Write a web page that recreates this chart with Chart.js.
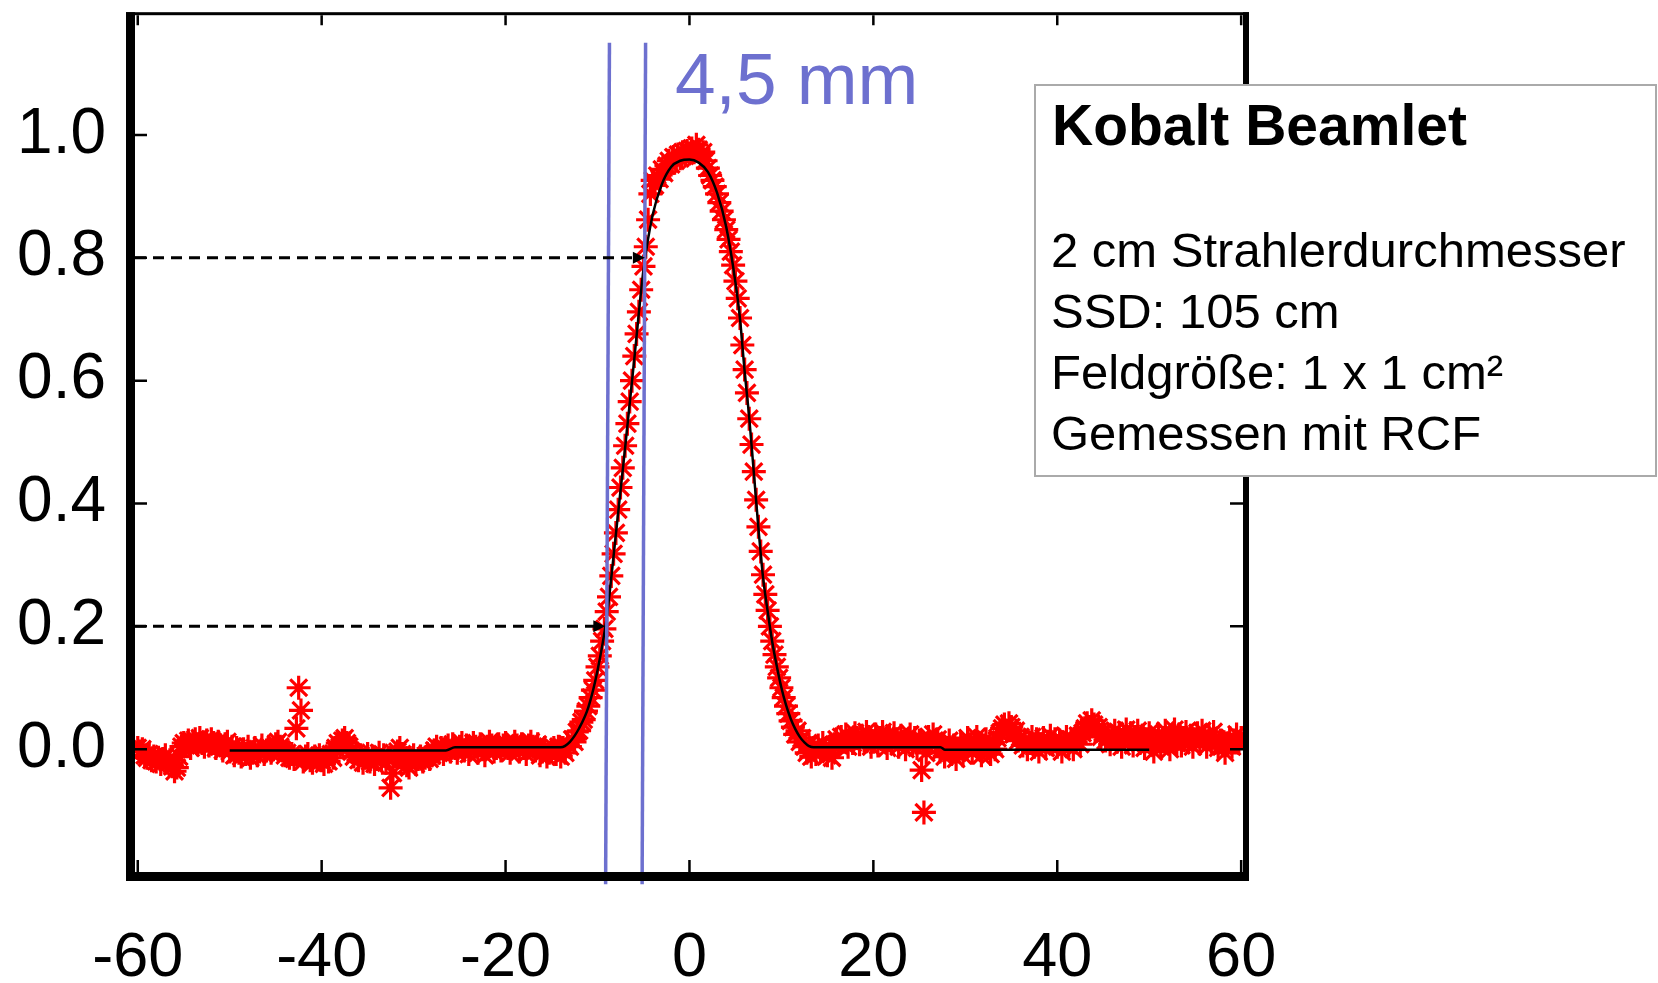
<!DOCTYPE html>
<html>
<head>
<meta charset="utf-8">
<script src="https://cdn.jsdelivr.net/npm/chart.js@4.4.1/dist/chart.umd.min.js"></script>
<style>
  html, body { margin: 0; padding: 0; background: #fff; }
  canvas { display: block; }
</style>
</head>
<body>
<canvas id="beamlet_chart" width="1658" height="983"></canvas>
<script>
// Kobalt Beamlet - Querprofil (RCF Messung)

// Messpunkte: Start bei -60, Schrittweite 0.25
const PROFILE_X_START = -60;
const PROFILE_X_STEP = 0.25;
const PROFILE_Y = [
  // -60 .. -55.25
  0.002, -0.004, 0.000, -0.010, -0.014, -0.008, -0.018, -0.012, -0.020, -0.014, -0.024, -0.016, -0.010, -0.022, -0.018, -0.028, -0.036, -0.030, -0.012, 0.004,
  // -55 .. -50.25
  0.010, 0.006, 0.014, 0.002, 0.012, 0.016, 0.008, 0.018, 0.010, 0.004, 0.014, 0.006, 0.016, 0.010, 0.002, 0.012, 0.006, -0.002, 0.008, 0.012,
  // -50 .. -45.25
  -0.004, 0.004, -0.010, 0.002, -0.006, -0.012, 0.000, -0.008, 0.004, -0.014, -0.006, 0.002, -0.010, -0.004, 0.006, -0.008, -0.002, 0.004, -0.006, 0.000,
  // -45 .. -40.25
  0.008, 0.012, 0.004, -0.002, -0.010, -0.006, -0.014, -0.008, -0.016, 0.034, 0.100, 0.063, -0.020, -0.012, -0.008, -0.018, -0.022, -0.012, -0.016, -0.010,
  // -40 .. -35.25
  -0.018, -0.024, -0.012, -0.020, -0.008, -0.014, 0.002, 0.010, 0.006, 0.014, 0.018, 0.010, 0.004, -0.004, -0.012, -0.006, -0.018, -0.010, -0.022, -0.014,
  // -35 .. -30.25
  -0.008, -0.020, -0.012, -0.024, -0.016, -0.006, -0.018, -0.010, -0.022, -0.014, -0.063, -0.039, -0.012, -0.004, 0.002, -0.008, -0.016, -0.026, -0.030, -0.018,
  // -30 .. -25.25
  -0.010, -0.024, -0.016, -0.012, -0.020, -0.014, -0.008, -0.016, -0.010, -0.002, 0.004, -0.006, 0.002, -0.008, 0.000, 0.006, -0.004, 0.008, 0.002, -0.006,
  // -25 .. -20.25
  0.004, 0.010, -0.002, 0.006, -0.008, 0.002, 0.010, 0.004, -0.006, 0.008, 0.000, -0.010, 0.004, 0.012, 0.006, -0.004, 0.002, 0.008, -0.002, 0.006,
  // -20 .. -15.25
  0.010, 0.002, -0.006, 0.004, 0.012, 0.006, -0.004, 0.008, 0.002, -0.008, 0.006, 0.012, 0.004, -0.002, 0.008, -0.010, -0.004, 0.002, -0.012, -0.006,
  // -15 .. -10.25
  -0.004, 0.002, -0.008, 0.004, -0.012, 0.002, -0.006, 0.008, 0.004, 0.016, 0.012, 0.028, 0.030, 0.044, 0.048, 0.062, 0.070, 0.084, 0.096, 0.112,
  // -10 .. -5.25
  0.134, 0.152, 0.176, 0.196, 0.224, 0.248, 0.282, 0.318, 0.352, 0.390, 0.426, 0.458, 0.494, 0.530, 0.566, 0.600, 0.640, 0.676, 0.712, 0.748,
  // -5 .. -0.25
  0.786, 0.818, 0.862, 0.904, 0.926, 0.918, 0.934, 0.928, 0.944, 0.938, 0.950, 0.958, 0.952, 0.964, 0.958, 0.968, 0.962, 0.972, 0.966, 0.974,
  // 0 .. 4.75
  0.970, 0.978, 0.972, 0.984, 0.976, 0.968, 0.972, 0.958, 0.946, 0.934, 0.926, 0.916, 0.904, 0.890, 0.876, 0.862, 0.846, 0.830, 0.810, 0.788,
  // 5 .. 9.75
  0.762, 0.734, 0.702, 0.658, 0.618, 0.580, 0.538, 0.496, 0.452, 0.406, 0.362, 0.322, 0.284, 0.252, 0.226, 0.200, 0.176, 0.154, 0.134, 0.116,
  // 10 .. 14.75
  0.100, 0.084, 0.070, 0.058, 0.046, 0.036, 0.024, 0.030, 0.012, 0.018, 0.004, -0.006, 0.008, -0.012, 0.002, -0.008, 0.006, -0.004, 0.010, 0.000,
  // 15 .. 19.75
  -0.010, 0.004, -0.014, 0.008, 0.016, 0.006, 0.020, 0.012, 0.024, 0.004, 0.016, 0.010, 0.026, 0.018, 0.008, 0.022, 0.014, 0.028, 0.020, 0.004,
  // 20 .. 24.75
  0.012, 0.024, 0.006, 0.018, 0.028, 0.014, 0.002, 0.020, 0.010, 0.026, 0.016, 0.004, 0.022, 0.012, 0.000, 0.014, 0.024, 0.008, 0.018, 0.002,
  // 25 .. 29.75
  0.014, -0.034, -0.103, -0.006, 0.020, 0.010, 0.024, 0.006, 0.016, -0.004, 0.008, -0.012, 0.002, 0.014, -0.008, 0.006, -0.016, -0.002, 0.010, -0.010,
  // 30 .. 34.75
  0.004, 0.018, 0.008, -0.006, 0.012, 0.020, 0.004, -0.010, 0.006, 0.016, 0.002, -0.008, 0.010, 0.000, 0.018, 0.026, 0.034, 0.040, 0.030, 0.042,
  // 35 .. 39.75
  0.036, 0.024, 0.030, 0.014, 0.020, 0.006, 0.014, 0.000, 0.010, 0.020, 0.004, 0.016, -0.004, 0.008, 0.018, 0.002, 0.012, 0.022, 0.008, 0.016,
  // 40 .. 44.75
  0.004, 0.014, -0.004, 0.010, 0.020, 0.006, 0.016, 0.000, 0.012, 0.022, 0.008, 0.026, 0.034, 0.042, 0.036, 0.047, 0.040, 0.030, 0.036, 0.020,
  // 45 .. 49.75
  0.028, 0.014, 0.024, 0.008, 0.020, 0.030, 0.012, 0.026, 0.004, 0.018, 0.032, 0.016, 0.026, 0.006, 0.020, 0.030, 0.010, 0.022, 0.002, 0.016,
  // 50 .. 54.75
  0.026, 0.008, -0.004, 0.012, 0.024, 0.004, 0.018, 0.030, 0.014, 0.000, 0.020, 0.032, 0.010, 0.024, 0.006, 0.018, 0.028, 0.012, 0.022, 0.004,
  // 55 .. 60
  0.016, 0.026, 0.010, 0.030, 0.018, 0.004, 0.022, 0.012, 0.028, 0.016, 0.002, 0.014, 0.006, -0.006, 0.008, 0.018, 0.004, 0.014, 0.024, 0.010,
  0.018
];

// Fit-Kurve (schwarz)
const FIT_X = [-50, -26.5, -25.5, -14, -13, -12, -11, -10, -9, -8, -7, -6, -5, -4, -3, -2, -1,
  0, 1, 2, 3, 4, 5, 5.5, 6, 6.5, 7, 7.5, 8, 8.5, 9, 9.5, 10, 10.5, 11, 11.5, 12, 12.5, 13, 13.5,
  27.3, 27.8, 50];
const FIT_Y = [-0.002, -0.002, 0.003, 0.003, 0.012, 0.034, 0.068, 0.128, 0.215, 0.35, 0.49, 0.635, 0.78, 0.87, 0.92, 0.948, 0.958,
  0.96, 0.955, 0.94, 0.906, 0.85, 0.76, 0.70, 0.615, 0.54, 0.45, 0.36, 0.28, 0.225, 0.175, 0.135, 0.10, 0.072, 0.05, 0.033, 0.02, 0.011, 0.005, 0.003,
  0.003, -0.001, -0.001];

// Penumbra-Markierung (blaue Linien, 20% / 80%)
const MARK_Y = [1.15, -0.22];
const MARK_LEFT_X = [-8.7, -9.12];
const MARK_RIGHT_X = [-4.77, -5.15];
const ARROW_LEVELS = [0.8, 0.2];
const ARROW_TIPS = [-4.85, -9.15];
const PENUMBRA_LABEL = '4,5 mm';

// Achsen
const X_TICKS = [-60, -40, -20, 0, 20, 40, 60];
const Y_TICKS = [0.0, 0.2, 0.4, 0.6, 0.8, 1.0];

// Info-Box
const INFO_TITLE = 'Kobalt Beamlet';
const INFO_LINES = ['2 cm Strahlerdurchmesser', 'SSD: 105 cm', 'Feldgröße: 1 x 1 cm²', 'Gemessen mit RCF'];

const FONT = "'Liberation Sans', Arial, sans-serif";
const BLUE = '#6d70cf';

document.addEventListener('DOMContentLoaded', function () {
  beamlet_chart();
});

function beamlet_chart() {
  const profilePoints = PROFILE_Y.map(function (v, i) {
    return { x: PROFILE_X_START + i * PROFILE_X_STEP, y: v };
  });
  const fitPoints = FIT_X.map(function (x, i) { return { x: x, y: FIT_Y[i] }; });
  const leftMark = MARK_LEFT_X.map(function (x, i) { return { x: x, y: MARK_Y[i] }; });
  const rightMark = MARK_RIGHT_X.map(function (x, i) { return { x: x, y: MARK_Y[i] }; });

  // Rahmen, Ticks nach innen, Pfeile, Text
  const overlay = {
    id: 'overlay',
    afterDatasetsDraw: function (chart) {
      const ctx = chart.ctx;
      const ca = chart.chartArea;
      const xs = chart.scales.x;
      const ys = chart.scales.y;
      ctx.save();

      // gestrichelte Pfeile
      ctx.strokeStyle = '#000';
      ctx.fillStyle = '#000';
      ctx.lineWidth = 3;
      ARROW_LEVELS.forEach(function (lv, i) {
        const y = ys.getPixelForValue(lv);
        const tip = xs.getPixelForValue(ARROW_TIPS[i]);
        ctx.setLineDash([11, 7]);
        ctx.beginPath();
        ctx.moveTo(ca.left, y);
        ctx.lineTo(tip - 10, y);
        ctx.stroke();
        ctx.setLineDash([]);
        ctx.beginPath();
        ctx.moveTo(tip, y);
        ctx.lineTo(tip - 12, y - 6);
        ctx.lineTo(tip - 12, y + 6);
        ctx.closePath();
        ctx.fill();
      });

      // Ticks
      ctx.lineWidth = 2.5;
      ctx.beginPath();
      X_TICKS.forEach(function (v) {
        const px = xs.getPixelForValue(v);
        ctx.moveTo(px, ca.bottom);
        ctx.lineTo(px, ca.bottom - 12);
        ctx.moveTo(px, ca.top);
        ctx.lineTo(px, ca.top + 10);
      });
      Y_TICKS.forEach(function (v) {
        const py = ys.getPixelForValue(v);
        ctx.moveTo(ca.left, py);
        ctx.lineTo(ca.left + 12, py);
        ctx.moveTo(ca.right, py);
        ctx.lineTo(ca.right - 13, py);
      });
      ctx.stroke();

      // Rahmen
      ctx.fillRect(ca.left - 9, ca.top - 3, 9, ca.bottom - ca.top + 12);
      ctx.fillRect(ca.left - 9, ca.bottom, ca.right - ca.left + 15, 9);
      ctx.fillRect(ca.left - 9, ca.top - 3, ca.right - ca.left + 15, 3);
      ctx.fillRect(ca.right, ca.top - 3, 6, ca.bottom - ca.top + 12);

      // 4,5 mm
      ctx.fillStyle = BLUE;
      ctx.font = '73px ' + FONT;
      ctx.textAlign = 'left';
      ctx.textBaseline = 'alphabetic';
      ctx.fillText(PENUMBRA_LABEL, 675, 104);

      // Info-Box
      ctx.fillStyle = '#fff';
      ctx.fillRect(1035, 85, 621, 391);
      ctx.strokeStyle = '#aaaaaa';
      ctx.lineWidth = 2;
      ctx.strokeRect(1035, 85, 621, 391);
      ctx.fillStyle = '#000';
      ctx.font = 'bold 57px ' + FONT;
      ctx.fillText(INFO_TITLE, 1052, 145);
      ctx.font = '49px ' + FONT;
      INFO_LINES.forEach(function (t, i) {
        ctx.fillText(t, 1051, 267 + i * 61);
      });

      ctx.restore();
    }
  };

  const data = {
    datasets: [
      {
        label: 'links',
        data: leftMark,
        showLine: true,
        borderColor: BLUE,
        borderWidth: 3.5,
        pointRadius: 0,
        clip: false,
        order: 0
      },
      {
        label: 'rechts',
        data: rightMark,
        showLine: true,
        borderColor: BLUE,
        borderWidth: 3.5,
        pointRadius: 0,
        clip: false,
        order: 0
      },
      {
        label: 'Fit',
        data: fitPoints,
        showLine: true,
        borderColor: '#000',
        borderWidth: 2.5,
        pointRadius: 0,
        cubicInterpolationMode: 'monotone',
        order: 1
      },
      {
        label: 'Messung',
        data: profilePoints,
        showLine: false,
        pointStyle: 'star',
        pointRadius: 12,
        pointBorderWidth: 3.2,
        pointBorderColor: '#ff0000',
        pointBackgroundColor: '#ff0000',
        order: 2
      }
    ]
  };

  const options = {
    responsive: false,
    animation: false,
    devicePixelRatio: 1,
    layout: { padding: { left: 0, right: 415, top: 10, bottom: 0 } },
    plugins: {
      legend: { display: false },
      tooltip: { enabled: false }
    },
    scales: {
      x: {
        type: 'linear',
        min: -60.3,
        max: 60.2,
        grid: { display: false, drawTicks: false },
        border: { display: false },
        afterBuildTicks: function (scale) {
          scale.ticks = X_TICKS.map(function (v) { return { value: v }; });
        },
        afterFit: function (scale) {
          scale.height = 111;
          scale.paddingLeft = 0;
          scale.paddingRight = 0;
        },
        ticks: {
          padding: 49,
          maxRotation: 0,
          autoSkip: false,
          color: '#000',
          font: { family: FONT, size: 63 },
          callback: function (v) { return String(v); }
        }
      },
      y: {
        type: 'linear',
        min: -0.2,
        max: 1.195,
        grid: { display: false, drawTicks: false },
        border: { display: false },
        afterBuildTicks: function (scale) {
          scale.ticks = Y_TICKS.map(function (v) { return { value: v }; });
        },
        afterFit: function (scale) {
          scale.width = 135;
          scale.paddingTop = 0;
          scale.paddingBottom = 0;
        },
        ticks: {
          padding: 29,
          autoSkip: false,
          color: '#000',
          font: { family: FONT, size: 64 },
          callback: function (v) { return Number(v).toFixed(1); }
        }
      }
    }
  };

  const ctx = document.getElementById('beamlet_chart').getContext('2d');
  new Chart(ctx, {
    type: 'scatter',
    data: data,
    options: options,
    plugins: [overlay]
  });
}
</script>
</body>
</html>
